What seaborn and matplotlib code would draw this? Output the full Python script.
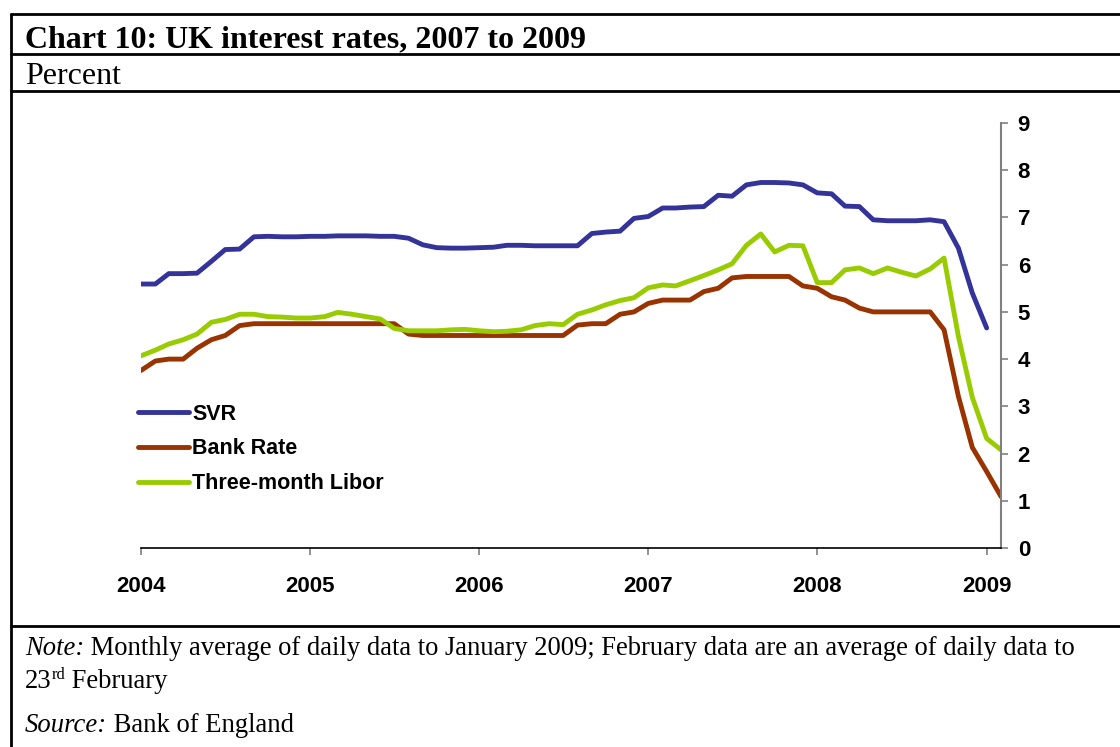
import numpy as np
import pandas as pd
import matplotlib
matplotlib.use("Agg")
import matplotlib.pyplot as plt
from matplotlib.lines import Line2D
import seaborn as sns

# Monthly data, Jan 2004 - Feb 2009 (SVR ends Jan 2009)
months = pd.date_range("2004-01-01", periods=62, freq="MS")

svr = [5.59, 5.59, 5.81, 5.81, 5.82, 6.07, 6.32, 6.33, 6.59, 6.60, 6.59, 6.59,
       6.60, 6.60, 6.61, 6.61, 6.61, 6.60, 6.60, 6.56, 6.42, 6.36, 6.35, 6.35,
       6.36, 6.37, 6.41, 6.41, 6.40, 6.40, 6.40, 6.40, 6.66, 6.69, 6.71, 6.98,
       7.02, 7.20, 7.20, 7.22, 7.23, 7.47, 7.45, 7.69, 7.74, 7.74, 7.73, 7.69,
       7.52, 7.50, 7.24, 7.23, 6.95, 6.93, 6.93, 6.93, 6.95, 6.91, 6.35, 5.40,
       4.66]

bank_rate = [3.76, 3.96, 4.00, 4.00, 4.23, 4.41, 4.50, 4.71, 4.75, 4.75, 4.75, 4.75,
             4.75, 4.75, 4.75, 4.75, 4.75, 4.75, 4.75, 4.53, 4.50, 4.50, 4.50, 4.50,
             4.50, 4.50, 4.50, 4.50, 4.50, 4.50, 4.50, 4.72, 4.75, 4.75, 4.95, 5.00,
             5.18, 5.25, 5.25, 5.25, 5.43, 5.50, 5.72, 5.75, 5.75, 5.75, 5.75, 5.55,
             5.50, 5.32, 5.25, 5.08, 5.00, 5.00, 5.00, 5.00, 5.00, 4.62, 3.21, 2.13,
             1.62, 1.09]

libor = [4.07, 4.19, 4.32, 4.41, 4.53, 4.78, 4.84, 4.95, 4.95, 4.90, 4.89, 4.87,
         4.87, 4.90, 4.99, 4.95, 4.90, 4.85, 4.65, 4.60, 4.60, 4.60, 4.62, 4.63,
         4.60, 4.58, 4.59, 4.62, 4.71, 4.75, 4.73, 4.95, 5.04, 5.15, 5.24, 5.30,
         5.51, 5.57, 5.55, 5.66, 5.77, 5.89, 6.02, 6.41, 6.65, 6.27, 6.41, 6.40,
         5.62, 5.62, 5.89, 5.93, 5.81, 5.93, 5.84, 5.76, 5.91, 6.14, 4.48, 3.19,
         2.32, 2.08]

series_names = ["SVR", "Bank Rate", "Three-month Libor"]
colors = ["#333399", "#993300", "#99CC00"]
year_ticks = [2004, 2005, 2006, 2007, 2008, 2009]

df = pd.concat([
    pd.DataFrame({"date": months[:len(svr)], "rate": svr, "series": "SVR"}),
    pd.DataFrame({"date": months, "rate": bank_rate, "series": "Bank Rate"}),
    pd.DataFrame({"date": months, "rate": libor, "series": "Three-month Libor"}),
])

sns.set_style("white")
plt.rcParams["font.family"] = ["Liberation Sans", "DejaVu Sans"]
plt.rcParams["text.color"] = "black"
plt.rcParams["xtick.labelcolor"] = "black"
plt.rcParams["ytick.labelcolor"] = "black"

W, H = 1120, 747
fig = plt.figure(figsize=(W / 100, H / 100), dpi=100)
ax = fig.add_axes([141 / W, 1 - 548 / H, (1001 - 141) / W, (548 - 123) / H])

sns.lineplot(data=df, x="date", y="rate", hue="series", hue_order=series_names,
             palette=colors, linewidth=3.5, ax=ax)

ax.set_xlim(months[0], months[-1])
ax.set_ylim(0, 9)
ax.set_xticks([pd.Timestamp(f"{y}-01-01") for y in year_ticks])
ax.set_xticklabels([str(y) for y in year_ticks], fontsize=16, fontweight="bold")
ax.set_yticks(range(10))
ax.set_yticklabels([str(v) for v in range(10)], fontsize=16, fontweight="bold")
ax.yaxis.tick_right()
ax.set_xlabel("")
ax.set_ylabel("")

for s in ["top", "left"]:
    ax.spines[s].set_visible(False)
ax.spines["right"].set_color("#808080")
ax.spines["right"].set_linewidth(1.5)
ax.spines["bottom"].set_color("black")
ax.spines["bottom"].set_linewidth(1.2)
ax.tick_params(axis="x", direction="out", length=5, width=1.2, color="#808080",
               labelcolor="black", pad=15, bottom=True)
ax.tick_params(axis="y", direction="out", length=5, width=1.2, color="#808080",
               labelcolor="black", pad=7, right=True, left=False)

handles, labels = ax.get_legend_handles_labels()
leg = ax.legend(handles, labels, loc="upper left", bbox_to_anchor=(-0.004, 0.34),
                frameon=False, prop={"weight": "bold", "size": 15.5},
                handlelength=2.4, handletextpad=0.15, labelspacing=0.64,
                borderpad=0, borderaxespad=0)
for t in leg.get_texts():
    t.set_color("black")

# frame lines of the chart box
def hline(py, x0=11, x1=W):
    fig.add_artist(Line2D([x0 / W, x1 / W], [1 - py / H, 1 - py / H],
                          color="black", linewidth=2, transform=fig.transFigure))

hline(14)
hline(54)
hline(91)
hline(626)
fig.add_artist(Line2D([11 / W, 11 / W], [1 - 14 / H, 0], color="black",
                      linewidth=2, transform=fig.transFigure))

serif = ["Liberation Serif", "DejaVu Serif"]
fig.text(25 / W, 1 - 47 / H, "Chart 10: UK interest rates, 2007 to 2009",
         family=serif, fontsize=23, fontweight="bold", va="baseline")
fig.text(25 / W, 1 - 84 / H, "Percent", family=serif, fontsize=23,
         va="baseline")

renderer = fig.canvas.get_renderer()

def run(px, py, parts):
    # draw text pieces one after another on the same baseline
    x = px
    for s, kw in parts:
        dy = kw.pop("dy", 0)
        t = fig.text(x / W, 1 - (py - dy) / H, s, family=serif, va="baseline", **kw)
        x = t.get_window_extent(renderer).x1
    return x

fs = 19.2
run(25, 655, [("Note:", {"fontsize": fs, "style": "italic"}),
              (" Monthly average of daily data to January 2009; February data are "
               "an average of daily data to", {"fontsize": fs})])
run(25, 688, [("23", {"fontsize": fs}),
              ("rd", {"fontsize": fs * 0.62, "dy": 9}),
              (" February", {"fontsize": fs})])
run(25, 732, [("Source:", {"fontsize": fs, "style": "italic"}),
              (" Bank of England", {"fontsize": fs})])

fig.savefig("out.png", dpi=100)
